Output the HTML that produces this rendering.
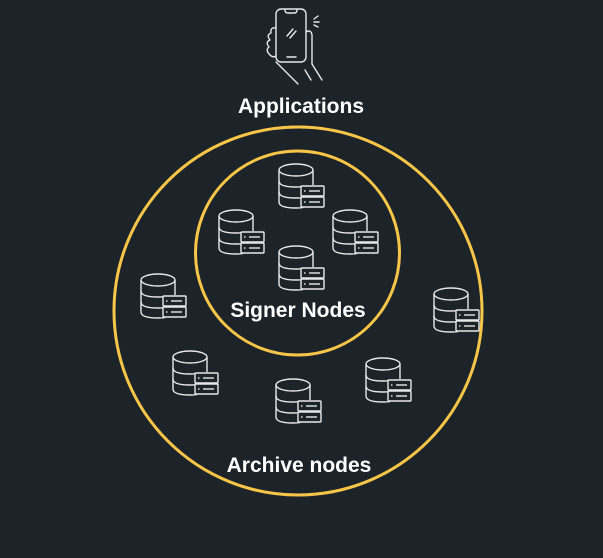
<!DOCTYPE html>
<html><head><style>
html,body{margin:0;padding:0;background:#1d2429;}
svg{display:block;}
text{font-family:"Liberation Sans",sans-serif;fill:#fff;font-size:21px;font-weight:bold;text-anchor:middle;}
</style></head><body>
<svg width="603" height="558" viewBox="0 0 603 558" xmlns="http://www.w3.org/2000/svg">
<defs>
<g id="db" fill="none" stroke="#e8e8e8" stroke-width="1.4">
  <ellipse cx="17" cy="6" rx="17" ry="6"/>
  <path d="M0 6 V38 Q0 44 17 44 Q22 44 24 43.5"/>
  <path d="M34 6 V21"/>
  <path d="M0 17 Q0 23 17 23 Q20 23 22 22.8"/>
  <path d="M0 28 Q0 34 17 34 Q20 34 22 33.8"/>
  <rect x="22" y="22" width="23" height="10" rx="1"/>
  <rect x="22" y="33" width="23" height="10" rx="1"/>
  <line x1="30" y1="27" x2="41" y2="27"/>
  <line x1="30" y1="38" x2="41" y2="38"/>
  <line x1="25" y1="27" x2="26.5" y2="27"/>
  <line x1="25" y1="38" x2="26.5" y2="38"/>
</g>
</defs>
<rect width="603" height="558" fill="#1d2429"/>
<g fill="none" stroke="#e8e8e8" stroke-width="1.4" stroke-linecap="round" stroke-linejoin="round">
  <rect x="276" y="9" width="30" height="53" rx="5"/>
  <path d="M285 10 Q285 13 288 13 H294 Q297 13 297 10"/>
  <line x1="287" y1="57" x2="296" y2="57"/>
  <line x1="287" y1="36" x2="293" y2="29"/>
  <line x1="290" y1="38" x2="296" y2="31"/>
  <path d="M314 19 L318 16 M314 22 L319 22 M314 25 L318 27"/>
  <path d="M276 28 Q270 27 271 33 Q266 35 270 40 Q265 42 269 47 Q265 50 270 55 Q273 58 276 56"/>
  <path d="M306 32 Q311 29 312 35 V64 L322 80"/>
  <path d="M276 62 L284 70 L298 84"/>
  <line x1="305" y1="70" x2="311" y2="80"/>
</g>
<text x="301" y="113">Applications</text>
<circle cx="298" cy="311" r="184" fill="none" stroke="#f7c548" stroke-width="3"/>
<circle cx="297.5" cy="253" r="102" fill="none" stroke="#f7c548" stroke-width="3"/>
<use href="#db" x="279" y="164"/>
<use href="#db" x="219" y="210"/>
<use href="#db" x="333" y="210"/>
<use href="#db" x="279" y="246"/>
<use href="#db" x="141" y="274"/>
<use href="#db" x="434" y="288"/>
<use href="#db" x="173" y="351"/>
<use href="#db" x="366" y="358"/>
<use href="#db" x="276" y="379"/>
<text x="298" y="317">Signer Nodes</text>
<text x="299" y="472">Archive nodes</text>
</svg>
</body></html>
